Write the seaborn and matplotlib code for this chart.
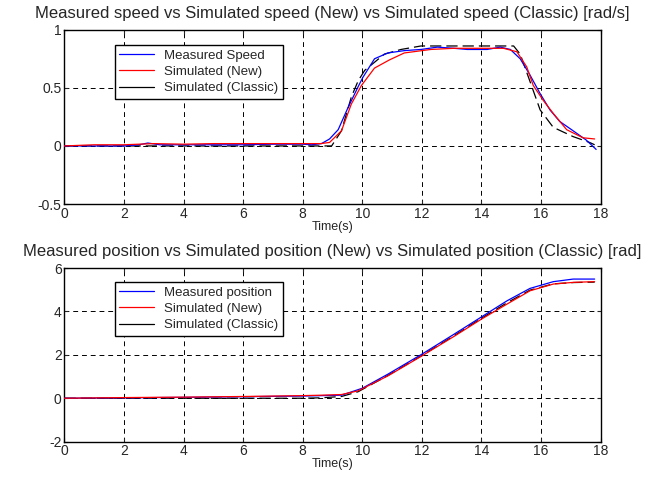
import numpy as np
import pandas as pd
import matplotlib
matplotlib.use("Agg")
import matplotlib.pyplot as plt
import seaborn as sns

# ---- speed data (rad/s) ----
t_speed_meas = [0, 1, 2, 2.5, 2.8, 3.2, 4, 5, 6, 7, 8, 8.3, 8.63, 8.9, 9.19, 9.52, 9.86, 10.02, 10.41, 10.86,
                11.41, 11.97, 12.52, 13.08, 13.52, 14.19, 14.63, 14.97, 15.3, 15.63, 15.97,
                16.3, 16.63, 17.08, 17.52, 17.85]
v_speed_meas = [0, 0, 0.0, 0.01, 0.025, 0.01, 0.01, 0.01, 0.01, 0.015, 0.015, 0.01, 0.02, 0.06, 0.14, 0.33, 0.51, 0.59, 0.75, 0.80,
                0.82, 0.83, 0.85, 0.84, 0.83, 0.83, 0.85, 0.83, 0.75, 0.61, 0.45,
                0.31, 0.21, 0.13, 0.05, -0.03]

t_speed_new = [0, 1, 2, 3, 4, 5, 6, 7, 8, 8.6, 8.9, 9.3, 9.63, 9.97, 10.41, 10.91, 11.41, 12.3, 13.08,
               13.86, 14.74, 15.19, 15.52, 15.74, 16.08, 16.41, 16.86, 17.41, 17.8]
v_speed_new = [0, 0.01, 0.01, 0.02, 0.015, 0.02, 0.02, 0.02, 0.02, 0.02, 0.03, 0.13, 0.36, 0.52, 0.67, 0.74, 0.80, 0.83, 0.84,
               0.84, 0.84, 0.81, 0.68, 0.52, 0.39, 0.28, 0.14, 0.07, 0.06]

t_speed_cls = [0, 2, 4, 6, 8, 8.97, 9.3, 9.63, 9.86, 10.08, 10.74, 11.3, 11.97, 13.08, 14.19, 15.08,
               15.3, 15.58, 15.97, 16.41, 17.08, 17.63, 17.8]
v_speed_cls = [0, 0, 0, 0, 0, 0.0, 0.13, 0.42, 0.56, 0.65, 0.79, 0.83, 0.86, 0.86, 0.86, 0.86,
               0.79, 0.59, 0.31, 0.16, 0.08, 0.03, 0.01]

# ---- position data (rad) ----
t_pos_meas = [0, 2, 4, 6, 8, 8.63, 9.3, 10, 10.86, 12, 13.08, 13.97, 14.86, 15.63, 16.41, 17.08, 17.8]
v_pos_meas = [0, 0.02, 0.04, 0.07, 0.1, 0.12, 0.14, 0.46, 1.11, 2.03, 2.95, 3.72, 4.49, 5.06, 5.37, 5.49, 5.49]

t_pos_new = [0, 2, 4, 6, 8, 8.63, 9.3, 9.86, 10.86, 12, 13.08, 13.97, 14.86, 15.63, 16.41, 17.1, 17.8]
v_pos_new = [0, 0.03, 0.05, 0.08, 0.12, 0.14, 0.17, 0.34, 1.03, 1.95, 2.85, 3.62, 4.34, 4.95, 5.26, 5.34, 5.37]

t_pos_cls = [0, 2, 4, 6, 8, 8.63, 9.3, 9.86, 10.86, 12, 13.08, 13.97, 14.86, 15.63, 16.41, 17.1, 17.8]
v_pos_cls = [0, 0.0, 0.0, 0.0, 0.0, 0.02, 0.08, 0.3, 1.05, 1.97, 2.88, 3.66, 4.4, 4.98, 5.27, 5.33, 5.35]

title_speed = "Measured speed vs Simulated speed (New) vs Simulated speed (Classic) [rad/s]"
title_pos = "Measured position vs Simulated position (New) vs Simulated position (Classic) [rad]"
labels_speed = ["Measured Speed", "Simulated (New)", "Simulated (Classic)"]
labels_pos = ["Measured position", "Simulated (New)", "Simulated (Classic)"]

sns.set_style("white")
plt.rcParams['font.family'] = ['Liberation Sans', 'DejaVu Sans']

fig = plt.figure(figsize=(6.66, 4.79), dpi=100)
ax1 = fig.add_axes([0.0968, 0.574, 0.805, 0.364])
ax2 = fig.add_axes([0.0968, 0.078, 0.805, 0.3625])


def draw(ax, series, labels, title, ylim, yticks, leg_y):
    colors = ["#0000ff", "#ff0000", "#000000"]
    for (t, v), lab, c in zip(series, labels, colors):
        df = pd.DataFrame({"t": t, "v": v})
        sns.lineplot(data=df, x="t", y="v", ax=ax, color=c, lw=0.9, label=lab,
                     zorder=3 if c != "#000000" else 2.5)
    ax.lines[2].set_dashes([9, 4])
    ax.set_xlim(0, 18)
    ax.set_ylim(*ylim)
    ax.set_xticks(range(0, 19, 2))
    ax.set_yticks(yticks)
    ax.set_yticklabels([f"{y:g}" for y in yticks])
    ax.set_xlabel("Time(s)", fontsize=9, labelpad=0)
    ax.set_ylabel("")
    ax.set_title(title, fontsize=12, pad=8.5)
    ax.tick_params(direction="in", length=3, width=0.8, labelsize=10, top=True, right=True,
                   bottom=True, left=True, pad=2)
    for s in ax.spines.values():
        s.set_color("black")
        s.set_linewidth(1.0)
    ax.grid(True, color="black", linestyle=(0, (5, 4)), linewidth=0.7)
    ax.set_axisbelow(True)
    leg = ax.legend(loc="upper left", bbox_to_anchor=(0.094, leg_y), fontsize=9.5,
                    frameon=True, fancybox=False, framealpha=1, edgecolor="black",
                    borderpad=0.35, labelspacing=0.3, handlelength=2.6, handletextpad=0.8,
                    borderaxespad=0)
    leg.get_frame().set_linewidth(1.0)
    for h in leg.get_lines():
        h.set_linestyle("-")


draw(ax1, [(t_speed_meas, v_speed_meas), (t_speed_new, v_speed_new), (t_speed_cls, v_speed_cls)],
     labels_speed, title_speed, (-0.5, 1), [-0.5, 0, 0.5, 1], 0.912)
draw(ax2, [(t_pos_meas, v_pos_meas), (t_pos_new, v_pos_new), (t_pos_cls, v_pos_cls)],
     labels_pos, title_pos, (-2, 6), [-2, 0, 2, 4, 6], 0.919)

fig.savefig("out.png", dpi=100)
